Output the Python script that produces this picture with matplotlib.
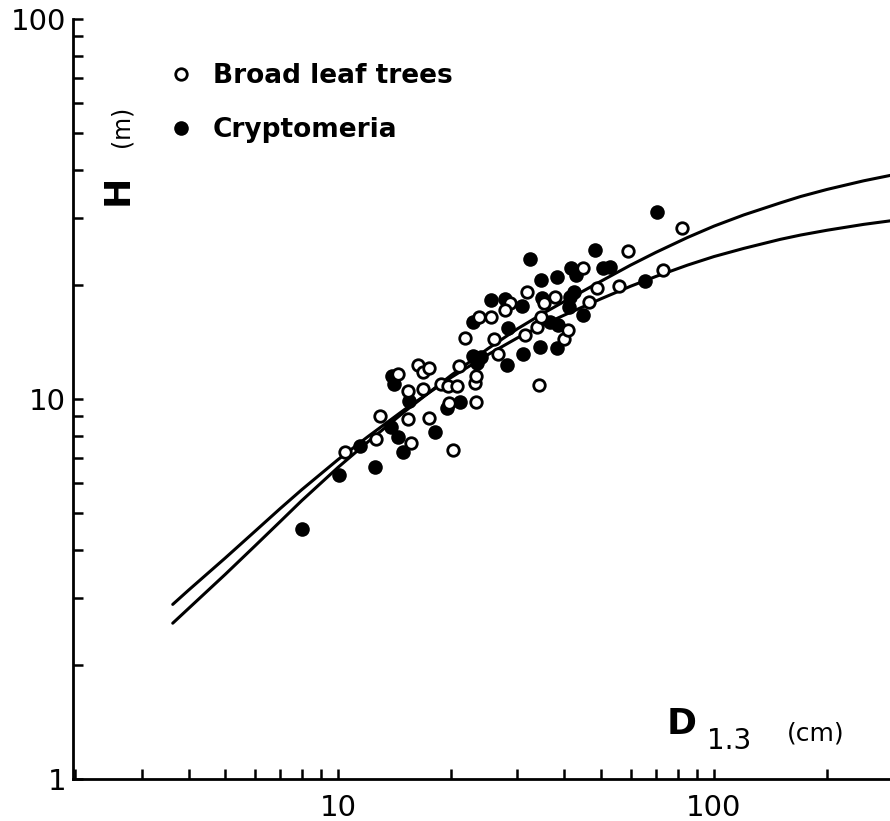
import matplotlib
matplotlib.use("Agg")
import matplotlib.pyplot as plt
from matplotlib.ticker import LogLocator, FixedFormatter, FixedLocator, NullFormatter

# Broad leaf trees (open circles): D1.3 (cm), H (m)
broad_d = [10.4, 12.6, 12.9, 14.4, 15.3, 16.8, 15.3, 15.6, 16.3, 16.8, 17.5, 17.4,
           18.8, 19.6, 20.7, 20.2, 19.7, 23.3, 23.1, 23.3, 21.0, 21.8, 23.7, 25.5,
           26.0, 26.6, 28.7, 27.8, 31.4, 31.8, 33.8, 34.7, 34.2, 35.3, 37.8, 39.9,
           40.9, 44.8, 46.5, 48.8, 55.9, 59.1, 73.2, 82.2]
broad_h = [7.25, 7.85, 9.02, 11.6, 10.5, 10.6, 8.86, 7.66, 12.3, 11.8, 12.1, 8.91,
           10.95, 10.8, 10.8, 7.34, 9.76, 9.82, 11.0, 11.5, 12.2, 14.5, 16.4, 16.4,
           14.4, 13.1, 17.9, 17.1, 14.7, 19.1, 15.5, 16.4, 10.9, 17.9, 18.6, 14.4,
           15.2, 22.1, 18.0, 19.6, 19.8, 24.5, 21.9, 28.2]

# Cryptomeria (filled circles)
cryp_d = [8.02, 10.06, 11.4, 12.5, 13.8, 14.4, 14.9, 13.9, 14.1, 15.4, 18.1, 19.5,
          21.1, 22.9, 24.0, 23.4, 22.9, 25.5, 27.8, 28.2, 28.3, 30.9, 31.0, 32.4,
          34.7, 34.9, 34.4, 36.6, 38.2, 38.2, 41.7, 43.0, 41.4, 42.4, 41.2, 44.8,
          48.3, 50.7, 52.9, 65.5, 70.5, 38.5]
cryp_h = [4.55, 6.31, 7.52, 6.62, 8.44, 7.94, 7.25, 11.5, 10.95, 9.88, 8.19, 9.47,
          9.82, 13.0, 12.9, 12.4, 15.9, 18.2, 18.3, 12.3, 15.4, 17.6, 13.1, 23.4,
          20.6, 18.4, 13.7, 15.9, 20.9, 13.6, 22.1, 21.2, 18.6, 19.1, 17.5, 16.6,
          24.7, 22.1, 22.3, 20.4, 31.1, 15.7]

# the two fitted curves
curve_d = [3.63, 4, 5, 6, 7, 8, 10, 12, 15, 20, 25, 30, 35, 40, 50, 60, 70, 85,
           100, 120, 150, 170, 200, 250, 300]
curve_a_h = [2.57, 2.81, 3.45, 4.10, 4.75, 5.40, 6.61, 7.71, 9.25, 11.55, 13.55,
             15.30, 16.77, 18.06, 20.4, 22.5, 24.3, 26.6, 28.5, 30.5, 32.8, 34.1,
             35.6, 37.5, 38.9]
curve_b_h = [2.88, 3.14, 3.81, 4.48, 5.14, 5.77, 6.93, 7.96, 9.37, 11.40, 13.07,
             14.48, 15.65, 16.63, 18.34, 19.8, 21.0, 22.5, 23.7, 24.9, 26.3, 27.0,
             27.8, 28.8, 29.5]

x_major = [10, 100]
y_major = [1, 10, 100]

fig = plt.figure(figsize=(8.9, 8.21), dpi=100)
ax = fig.add_axes([0.082, 0.0512, 0.918, 0.9257])
ax.set_xscale("log")
ax.set_yscale("log")
ax.set_xlim(1.97, 294)
ax.set_ylim(1, 100)

ax.plot(curve_d, curve_a_h, color="black", lw=2.2, solid_capstyle="round")
ax.plot(curve_d, curve_b_h, color="black", lw=2.2, solid_capstyle="round")

ax.plot(cryp_d, cryp_h, "o", color="black", ms=10.5, mew=0, label="Cryptomeria",
        clip_on=False)
ax.plot(broad_d, broad_h, "o", mfc="white", mec="black", ms=8.3, mew=2.0,
        label="Broad leaf trees", clip_on=False)

for s in ["top", "right"]:
    ax.spines[s].set_visible(False)
for s in ["left", "bottom"]:
    ax.spines[s].set_linewidth(2)

ax.xaxis.set_major_locator(FixedLocator(x_major))
ax.xaxis.set_major_formatter(FixedFormatter([str(v) for v in x_major]))
ax.yaxis.set_major_locator(FixedLocator(y_major))
ax.yaxis.set_major_formatter(FixedFormatter([str(v) for v in y_major]))
ax.xaxis.set_minor_locator(LogLocator(base=10, subs=range(2, 10)))
ax.yaxis.set_minor_locator(LogLocator(base=10, subs=range(2, 10)))
ax.xaxis.set_minor_formatter(NullFormatter())
ax.yaxis.set_minor_formatter(NullFormatter())
ax.tick_params(which="both", direction="in", length=7, width=1.8)
ax.tick_params(axis="x", which="major", pad=11, labelsize=21)
ax.tick_params(axis="y", which="major", pad=5, labelsize=21)

handles, labels = ax.get_legend_handles_labels()
leg = fig.legend(handles[::-1], labels[::-1], loc="center left",
                 bbox_to_anchor=(0.1888, 0.8745), frameon=False,
                 prop={"size": 19, "weight": "bold"}, handlelength=1.0,
                 handletextpad=0.7, borderpad=0, borderaxespad=0,
                 labelspacing=1.05)

# axis titles
fig.text(118 / 890, 1 - 190 / 821, "H", rotation=90, fontsize=26,
         fontweight="bold", ha="center", va="center")
fig.text(121 / 890, 1 - 126 / 821, "(m)", rotation=90, fontsize=17,
         ha="center", va="center")
fig.text(682 / 890, 1 - 724 / 821, "D", fontsize=26, fontweight="bold",
         ha="center", va="center")
fig.text(729 / 890, 1 - 741 / 821, "1.3", fontsize=20, ha="center", va="center")
fig.text(816 / 890, 1 - 733 / 821, "(cm)", fontsize=18, ha="center", va="center")

fig.savefig("out.png", dpi=100)
